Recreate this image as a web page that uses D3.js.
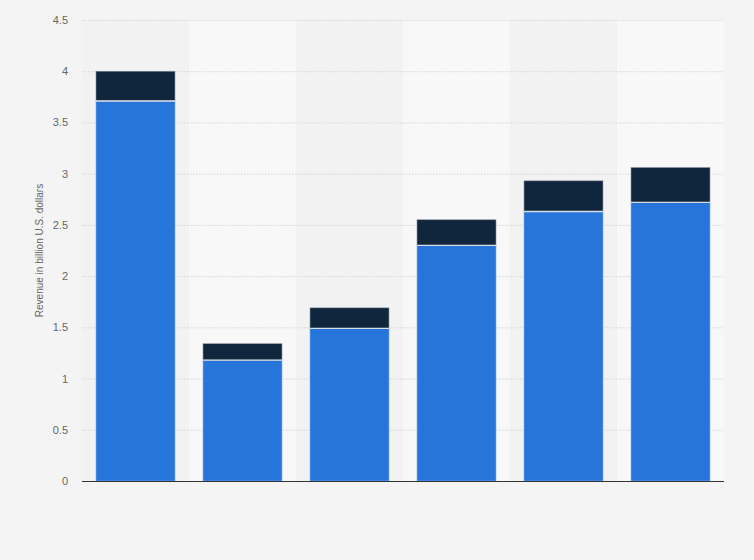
<!DOCTYPE html>
<html><head><meta charset="utf-8">
<script src="https://cdn.jsdelivr.net/npm/d3@7"></script>
<style>
html,body{margin:0;padding:0;background:#f4f4f4;}
svg{display:block;font-family:"Liberation Sans",Arial,sans-serif;}
</style></head>
<body><svg id="c" width="754" height="560"></svg>
<script>
const categories = ["A","B","C","D","E","F"];
const seriesMain = [3.71, 1.18, 1.49, 2.30, 2.63, 2.72];
const seriesOther = [0.29, 0.16, 0.20, 0.25, 0.30, 0.34];
const yTicks = [0, 0.5, 1, 1.5, 2, 2.5, 3, 3.5, 4, 4.5];
const yLabel = "Revenue in billion U.S. dollars";

const svg = d3.select("#c");
const m = {left: 82, right: 30, top: 20, bottom: 79};
const W = 754, H = 560;
const x = d3.scaleBand().domain(categories).range([m.left, W - m.right]).paddingInner(0).paddingOuter(0);
const y = d3.scaleLinear().domain([0, 4.5]).range([H - m.bottom, m.top]);

svg.append("g").selectAll("rect").data(categories).join("rect")
  .attr("x", d => x(d)).attr("y", m.top).attr("width", x.bandwidth()).attr("height", y(0) - m.top)
  .attr("fill", (d, i) => i % 2 ? "#f8f8f8" : "#f2f2f2");

const gy = svg.append("g").attr("transform", `translate(${m.left},0)`)
  .call(d3.axisLeft(y).tickValues(yTicks).tickSize(-(W - m.right - m.left)).tickFormat(d3.format("")).tickPadding(14));
gy.select(".domain").remove();
gy.selectAll(".tick line").attr("stroke", "#d4d4d4").attr("stroke-dasharray", "1.5,1.5");
gy.selectAll(".tick text").attr("fill", "#666").attr("font-size", 11);

const bw = 79;
const off = (x.bandwidth() - bw) / 2;
const g = svg.append("g");
categories.forEach((c, i) => {
  const top = seriesMain[i] + seriesOther[i];
  g.append("rect").attr("x", x(c) + off).attr("width", bw)
    .attr("y", y(seriesMain[i])).attr("height", y(0) - y(seriesMain[i]))
    .attr("fill", "#2775db").attr("stroke", "#7fb0ee").attr("stroke-width", 0.6);
  g.append("rect").attr("x", x(c) + off).attr("width", bw)
    .attr("y", y(top)).attr("height", y(seriesMain[i]) - y(top))
    .attr("fill", "#10263c").attr("stroke", "#8a94a0").attr("stroke-width", 0.6);
  g.append("line").attr("x1", x(c) + off).attr("x2", x(c) + off + bw)
    .attr("y1", y(seriesMain[i])).attr("y2", y(seriesMain[i]))
    .attr("stroke", "#d8dde4").attr("stroke-width", 1.4);
});

svg.append("line").attr("x1", m.left).attr("x2", W - m.right).attr("y1", y(0) + 0.5).attr("y2", y(0) + 0.5)
  .attr("stroke", "#333").attr("stroke-width", 1);

svg.append("text").attr("transform", `translate(43,${(y(0) + m.top) / 2}) rotate(-90)`)
  .attr("text-anchor", "middle").attr("font-size", 10).attr("fill", "#666").text(yLabel);
</script></body></html>
